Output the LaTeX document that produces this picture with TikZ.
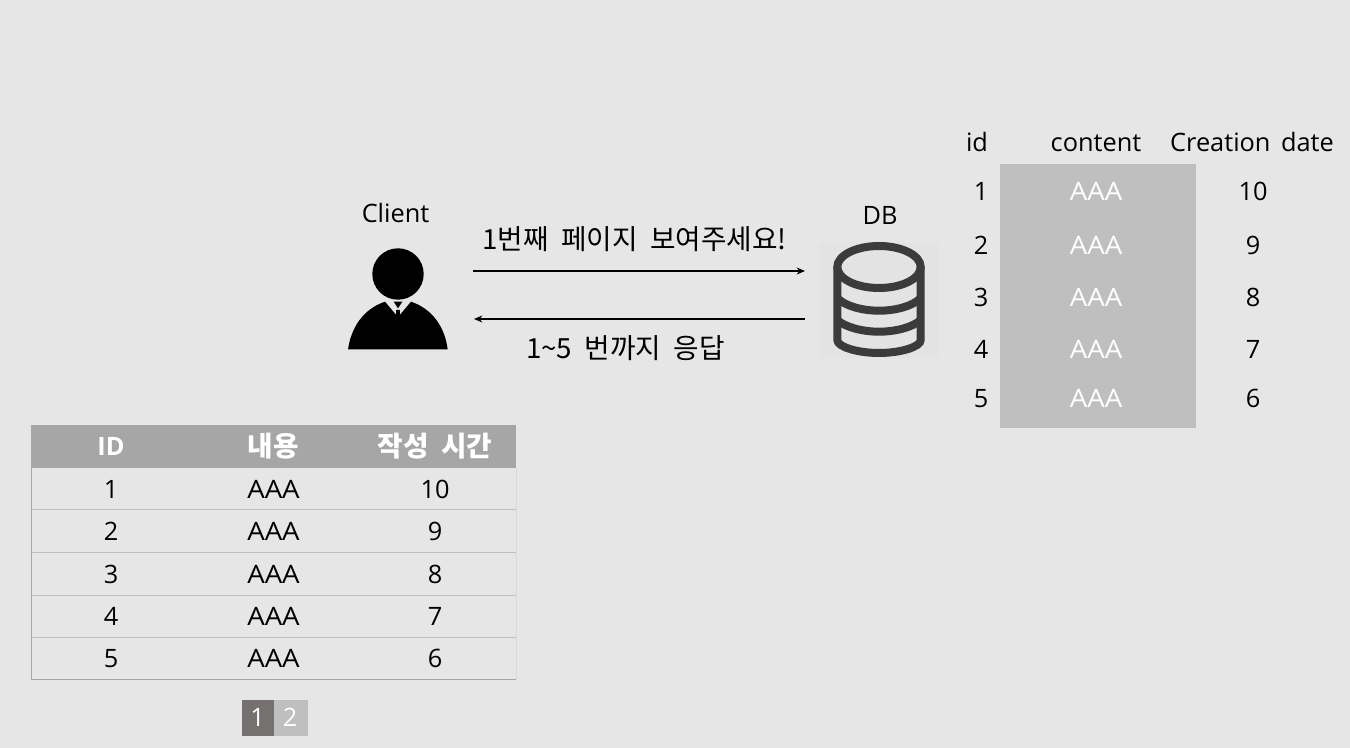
\documentclass[tikz,border=0pt]{standalone}
\usepackage{fontspec}
\setmainfont{Open Sans}[WordSpace=1.6]
\newfontfamily\kr{Noto Sans CJK KR}[WordSpace=2]
\newfontfamily\wideA{Open Sans}[FakeStretch=1.09]
\usetikzlibrary{arrows.meta,patterns}
\definecolor{pagebg}{HTML}{E6E6E6}
\definecolor{headgray}{HTML}{A6A6A6}
\definecolor{cellgray}{HTML}{BFBFBF}
\definecolor{darkpage}{HTML}{767171}
\definecolor{dbink}{HTML}{3B3B3B}
\definecolor{hatchbg}{HTML}{E5E5E5}
\definecolor{hatchln}{HTML}{E1E1E1}
\newcommand{\krsize}{\fontsize{20.8}{24}\selectfont}
\newcommand{\lasize}{\fontsize{19}{22}\selectfont}
\tikzset{
  txt/.style={inner sep=0pt,outer sep=0pt,font=\lasize,text height=13.6pt,text depth=0pt,anchor=center,text=black},
  wtxt/.style={txt,text=white},
  krtxt/.style={txt,font=\kr\krsize},
  htxt/.style={txt,text=white,font=\lasize\bfseries},
  hkrtxt/.style={txt,text=white,font=\kr\krsize\bfseries},
  aaa/.style={txt,font=\wideA\lasize},
  waaa/.style={aaa,text=white},
  rowline/.style={draw=cellgray,line width=0.75pt},
  msg/.style={-{Stealth[length=6.2pt,width=5.2pt]},line width=1pt,black},
  dbline/.style={draw=dbink,line width=6pt}
}
\begin{document}
\begin{tikzpicture}[x=0.75pt,y=-0.75pt]
\useasboundingbox (0,0) rectangle (1350,748);
\fill[pagebg] (0,0) rectangle (1350,748);

% client icon
\fill[black] (398,274) circle (25.7);
\fill[black] (348,349.5) .. controls (351,328) and (363,309) .. (385,301.7)
  -- (396.2,315) -- (396.2,310) -- (399.8,310) -- (399.8,315) -- (411,301.7)
  .. controls (433,309) and (445,328) .. (447.7,349.5) -- cycle;
\fill[black] (393.7,301.7) -- (402.3,301.7) -- (398,308.3) -- cycle;
\node[txt] (client) at (395.5,213) {Client};

% db icon
\fill[hatchbg] (819,243) rectangle (938,358);
\fill[pattern=north east lines,pattern color=hatchln] (819,243) rectangle (938,358);
\draw[dbline] (879,267) ellipse [x radius=41.7,y radius=21];
\draw[dbline] (837.3,267) -- (837.3,340) .. controls (837.3,347) and (858,353) .. (879,353)
  .. controls (900,353) and (920.7,347) .. (920.7,340) -- (920.7,267);
\draw[dbline] (837.3,298) .. controls (845,306) and (862,310.7) .. (879,310.7)
  .. controls (896,310.7) and (913,306) .. (920.7,298);
\draw[dbline] (837.3,320) .. controls (845,327) and (862,331.7) .. (879,331.7)
  .. controls (896,331.7) and (913,327) .. (920.7,320);
\node[txt] (db) at (880,215) {DB};

% messages
\coordinate (reqa) at (473,271);
\coordinate (reqb) at (805,271);
\coordinate (resa) at (805,319);
\coordinate (resb) at (474,319);
\draw[msg] (reqa) -- (reqb);
\draw[msg] (resa) -- (resb);
\node[krtxt] (reqtxt) at (634.5,240.5) {1번째 페이지 보여주세요!};
\node[krtxt] (restxt) at (625.5,349.5) {1\textasciitilde5 번까지 응답};

% right table
\fill[cellgray] (1000,164) rectangle (1196,428);
\node[txt] (hid) at (977,142) {id};
\node[txt] (hcontent) at (1096,142) {content};
\node[txt] (hdate) at (1252,142) {Creation date};
\foreach \n/\y/\v in {1/191/10,2/245/9,3/297/8,4/349/7,5/398/6}{
  \node[txt] (rid\n) at (981,\y) {\n};
  \node[waaa] (rc\n) at (1096,\y+0.5) {AAA};
  \node[txt] (rv\n) at (1253,\y) {\v};
}

% left table
\fill[headgray] (31,425) rectangle (516,468);
\node[htxt] (lh1) at (111,446) {ID};
\node[hkrtxt] (lh2) at (273,447) {내용};
\node[hkrtxt] (lh3) at (435,447) {작성 시간};
\foreach \n/\y/\v/\l in {1/489/10/510,2/531/9/552,3/574/8/595,4/616/7/637,5/658/6/679}{
  \node[txt] (lid\n) at (111,\y) {\n};
  \node[aaa] (lc\n) at (273.5,\y) {AAA};
  \node[txt] (lv\n) at (435,\y) {\v};
  \draw[rowline] (31,\l) -- (516,\l);
}
\draw[headgray,line width=0.75pt] (31,679.5) -- (516,679.5);
\draw[headgray,line width=0.6pt] (31,468) -- (31,680);
\draw[cellgray!60,line width=0.5pt] (516,468) -- (516,680);

% pagination
\fill[darkpage] (242,700) rectangle (274,736);
\fill[cellgray] (274,700) rectangle (308,736);
\node[wtxt] (p1) at (257.5,717.5) {1};
\node[wtxt] (p2) at (290,717.5) {2};
\end{tikzpicture}
\end{document}
